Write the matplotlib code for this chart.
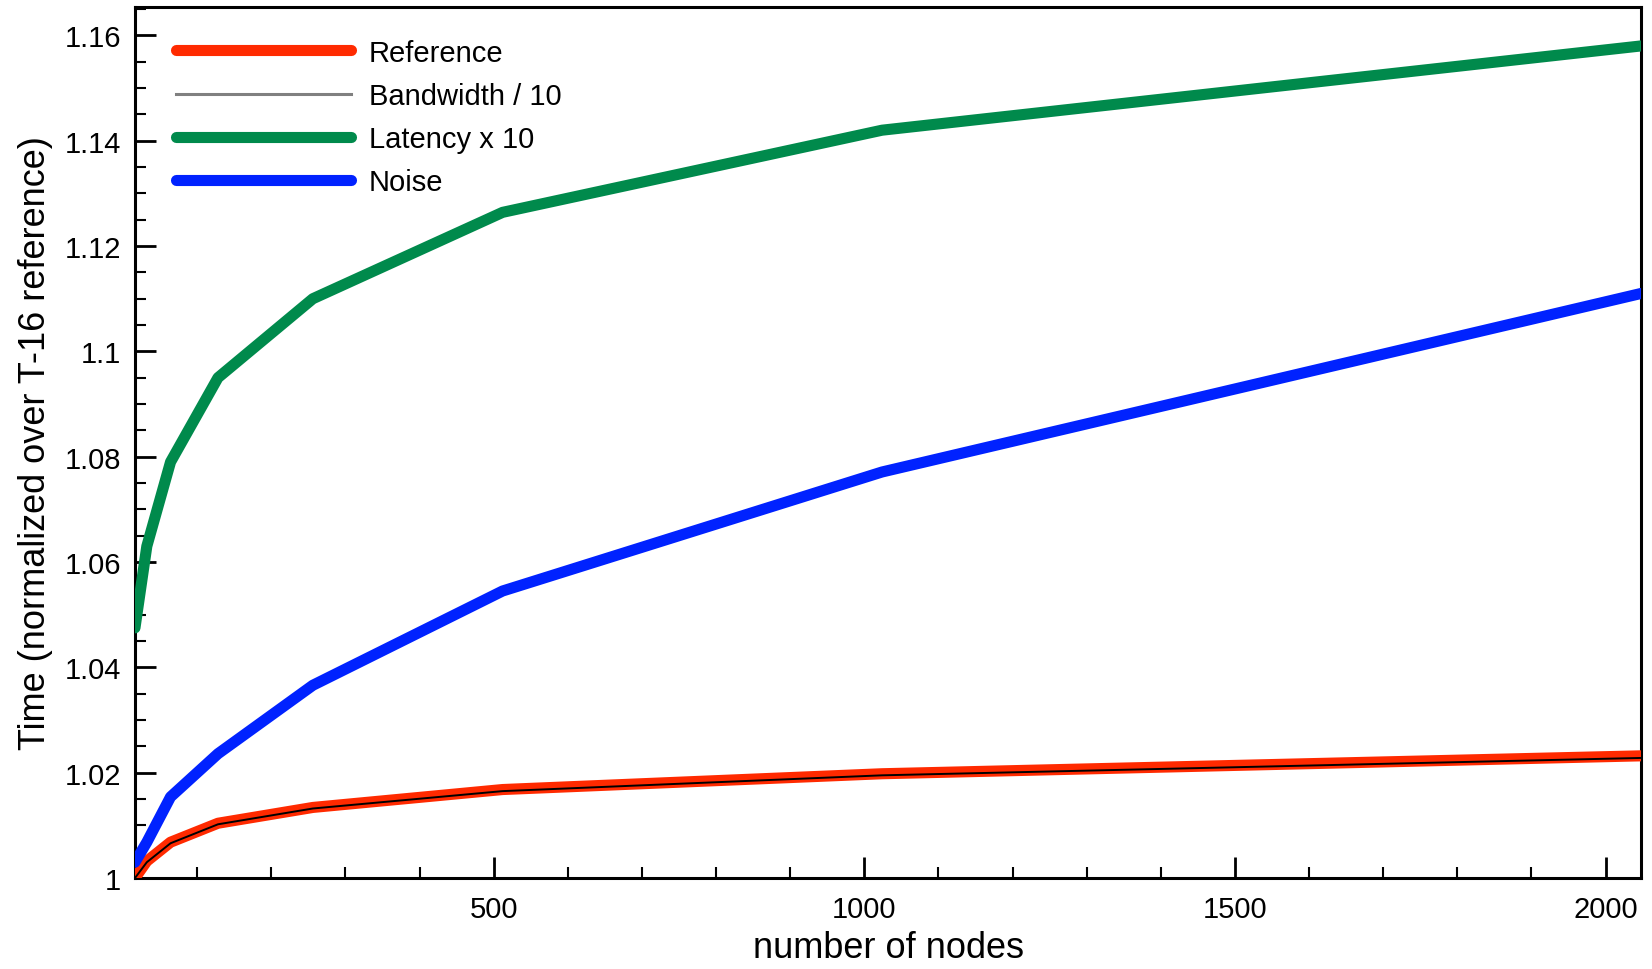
import matplotlib
matplotlib.use("Agg")
import matplotlib.pyplot as plt
from matplotlib.ticker import MultipleLocator, FuncFormatter
from matplotlib.lines import Line2D

plt.rcParams['font.family'] = ['Liberation Sans', 'DejaVu Sans']

nodes = [16, 32, 64, 128, 256, 512, 1024, 2048]
reference = [1.0, 1.0032, 1.0068, 1.0104, 1.0134, 1.0168, 1.0198, 1.0232]
bandwidth = [1.0, 1.0030, 1.0066, 1.0102, 1.0132, 1.0165, 1.0195, 1.0228]
latency = [1.0475, 1.063, 1.079, 1.095, 1.110, 1.1264, 1.142, 1.158]
noise = [1.003, 1.0068, 1.0154, 1.0236, 1.0366, 1.0545, 1.0771, 1.111]

labels = ["Reference", "Bandwidth / 10", "Latency x 10", "Noise"]

fig = plt.figure(figsize=(16.52, 9.70), dpi=100)
ax = fig.add_axes([0.0817, 0.0938, 0.9117, 0.898])

l_ref, = ax.plot(nodes, reference, color='#FF2A00', lw=8, solid_capstyle='round', label=labels[0], zorder=3)
l_bw, = ax.plot(nodes, bandwidth, color='black', lw=1.4, label=labels[1], zorder=4)
l_lat, = ax.plot(nodes, latency, color='#008A4C', lw=8, solid_capstyle='round', label=labels[2], zorder=3)
l_noise, = ax.plot(nodes, noise, color='#0022FF', lw=8, solid_capstyle='round', label=labels[3], zorder=3)

ax.set_xlim(16, 2048)
ax.set_ylim(1.0, 1.1654)

ax.xaxis.set_major_locator(MultipleLocator(500))
ax.xaxis.set_minor_locator(MultipleLocator(100))
ax.yaxis.set_major_locator(MultipleLocator(0.02))
ax.yaxis.set_minor_locator(MultipleLocator(0.005))
ax.yaxis.set_major_formatter(FuncFormatter(lambda v, p: f"{v:.2f}".rstrip('0').rstrip('.')))

ax.tick_params(which='both', direction='in', top=False, right=False, labelsize=21, width=2)
ax.tick_params(which='major', length=15, pad=10)
ax.tick_params(axis='x', which='major', pad=12)
ax.tick_params(which='minor', length=8, width=1.5)
for s in ax.spines.values():
    s.set_linewidth(2.2)

ax.set_xlabel("number of nodes", fontsize=26, labelpad=5)
ax.set_ylabel("Time (normalized over T-16 reference)", fontsize=26, labelpad=8)

h_bw = Line2D([], [], color='#808080', lw=2.2)
leg = ax.legend([l_ref, h_bw, l_lat, l_noise], labels, loc='upper left', frameon=False,
                fontsize=21, handlelength=6.0, handletextpad=0.6, labelspacing=0.52,
                borderaxespad=0, bbox_to_anchor=(0.0196, 0.977))

fig.savefig("out.png", dpi=100)
